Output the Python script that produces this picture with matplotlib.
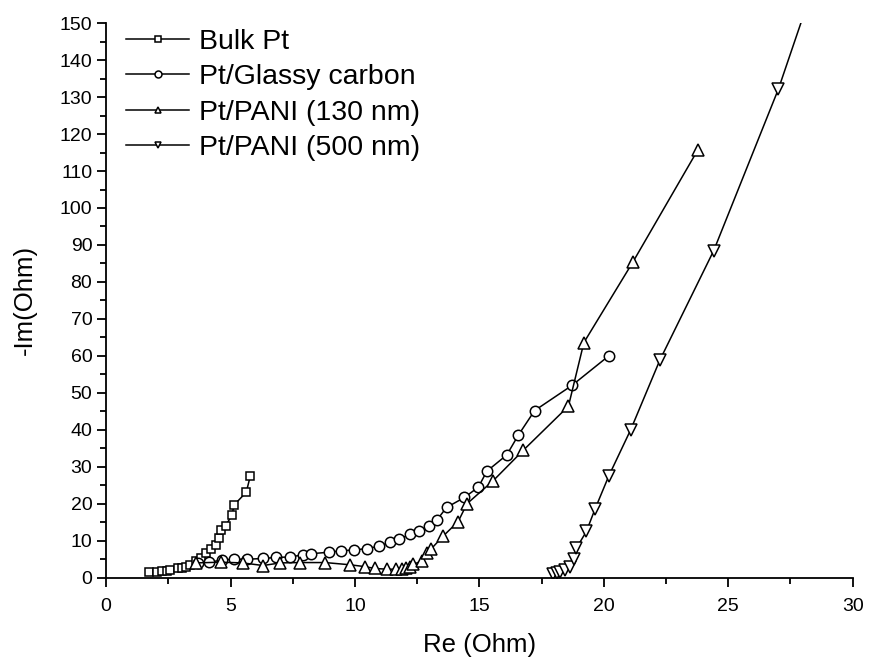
import matplotlib
matplotlib.use("Agg")
import matplotlib.pyplot as plt
from matplotlib.ticker import MultipleLocator

plt.rcParams['font.family'] = ['Liberation Sans', 'DejaVu Sans']

# impedance data (Re, -Im) in Ohm
bulk_re = [1.71, 2.04, 2.24, 2.43, 2.57, 2.89, 3.03, 3.22, 3.36, 3.62, 3.82, 4.01, 4.21, 4.41,
           4.54, 4.61, 4.80, 5.07, 5.13, 5.63, 5.79]
bulk_im = [1.6, 1.6, 1.8, 1.9, 2.1, 2.5, 2.7, 3.0, 3.5, 4.4, 5.3, 6.7, 7.8, 8.9,
           10.8, 12.8, 14.1, 17.0, 19.6, 23.1, 27.4]

gc_re = [3.7, 4.15, 4.67, 5.13, 5.66, 6.32, 6.84, 7.4, 7.9, 8.24, 8.97, 9.44, 9.97, 10.48,
         10.97, 11.4, 11.78, 12.22, 12.58, 12.98, 13.28, 13.68, 14.4, 14.96, 15.3, 16.1,
         16.57, 17.22, 18.72, 20.2]
gc_im = [4.0, 4.2, 4.8, 5.0, 5.0, 5.2, 5.5, 5.6, 6.2, 6.5, 6.9, 7.3, 7.5, 7.9,
         8.5, 9.6, 10.5, 11.7, 12.5, 14.0, 15.5, 19.0, 21.7, 24.5, 28.8, 33.2,
         38.6, 45.2, 52.0, 60.0]

pani130_re = [3.6, 4.6, 5.5, 6.3, 7.0, 7.8, 8.8, 9.8, 10.4, 10.8, 11.3, 11.65, 11.9, 12.05,
              12.2, 12.35, 12.7, 12.9, 13.05, 13.55, 14.15, 14.5, 15.55, 16.77, 18.58,
              19.2, 21.18, 23.77]
pani130_im = [4.0, 4.2, 4.0, 3.3, 4.0, 4.1, 4.1, 3.5, 3.0, 2.5, 2.3, 2.3, 2.3, 2.5,
              3.0, 3.6, 4.6, 6.6, 7.7, 11.3, 15.2, 20.0, 26.2, 34.5, 46.4,
              63.6, 85.5, 115.6]

# last point is only the end of the line (no symbol drawn there)
pani500_re = [17.95, 18.1, 18.25, 18.45, 18.65, 18.8, 18.9, 19.3, 19.65, 20.2, 21.08,
              22.25, 24.42, 27.02, 27.92]
pani500_im = [1.0, 1.3, 1.6, 2.2, 3.0, 5.0, 8.0, 12.5, 18.6, 27.5, 40.0,
              58.8, 88.5, 132.2, 150.0]

labels = ['Bulk Pt', 'Pt/Glassy carbon', 'Pt/PANI (130 nm)', 'Pt/PANI (500 nm)']

fig = plt.figure(figsize=(8.7, 6.61), dpi=100)
ax = fig.add_axes([0.122, 0.126, 0.858, 0.839])

style = dict(color='black', lw=1.1, mfc='white', mec='black', mew=1.1)
ax.plot(bulk_re, bulk_im, marker='s', ms=6, label=labels[0], **style)
ax.plot(gc_re, gc_im, marker='o', ms=7.5, label=labels[1], **style)
ax.plot(pani130_re, pani130_im, marker='^', ms=9, label=labels[2], **style)
ax.plot(pani500_re, pani500_im, marker='v', ms=9, markevery=list(range(len(pani500_re) - 1)),
        label=labels[3], **style)

ax.set_xlim(0, 30)
ax.set_ylim(0, 150)
ax.xaxis.set_major_locator(MultipleLocator(5))
ax.xaxis.set_minor_locator(MultipleLocator(2.5))
ax.yaxis.set_major_locator(MultipleLocator(10))
ax.yaxis.set_minor_locator(MultipleLocator(5))

# only left and bottom axis lines, ticks pointing out
ax.spines['top'].set_visible(False)
ax.spines['right'].set_visible(False)
ax.tick_params(which='major', direction='out', length=6.5, width=1.3, labelsize=14)
ax.tick_params(axis='x', which='major', pad=8)
ax.tick_params(which='minor', direction='out', length=4.3, width=1.3)
ax.spines['left'].set_linewidth(1.3)
ax.spines['bottom'].set_linewidth(1.3)

ax.set_xlabel('Re (Ohm)', fontsize=18.5, labelpad=13)
ax.set_ylabel('-Im(Ohm)', fontsize=18.5, labelpad=16)

leg = ax.legend(loc='upper left', frameon=False, fontsize=20.5,
                handlelength=2.2, handletextpad=0.35, labelspacing=0.33,
                borderaxespad=0.0, bbox_to_anchor=(0.012, 1.010))
# legend symbols are small and all the same size
for h in leg.legend_handles:
    h.set_markersize(5)

fig.savefig('out.png', dpi=100)
